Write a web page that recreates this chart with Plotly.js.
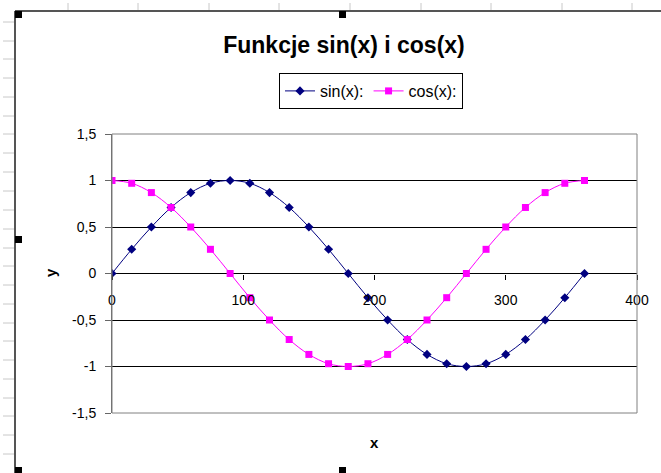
<!DOCTYPE html>
<html>
<head>
<meta charset="utf-8">
<script src="https://cdn.plot.ly/plotly-3.0.1.min.js"></script>
<style>html,body{margin:0;padding:0;background:#fff;}#chart{width:661px;height:473px;}</style>
</head>
<body>
<div id="chart"></div>
<script>
// ---- data ----
const xDeg = [0, 15, 30, 45, 60, 75, 90, 105, 120, 135, 150, 165, 180, 195, 210, 225, 240, 255, 270, 285, 300, 315, 330, 345, 360];
const sinVals = [0, 0.26, 0.5, 0.71, 0.87, 0.97, 1, 0.97, 0.87, 0.71, 0.5, 0.26, 0, -0.26, -0.5, -0.71, -0.87, -0.97, -1, -0.97, -0.87, -0.71, -0.5, -0.26, 0];
const cosVals = [1, 0.97, 0.87, 0.71, 0.5, 0.26, 0, -0.26, -0.5, -0.71, -0.87, -0.97, -1, -0.97, -0.87, -0.71, -0.5, -0.26, 0, 0.26, 0.5, 0.71, 0.87, 0.97, 1];
const seriesNames = ['sin(x):', 'cos(x):'];
const yTickVals = [-1.5, -1, -0.5, 0, 0.5, 1, 1.5];
const yTickText = ['-1,5', '-1', '-0,5', '0', '0,5', '1', '1,5'];
const xTickVals = [0, 100, 200, 300, 400];
const xTickText = ['0', '100', '200', '300', '400'];
const chartTitle = 'Funkcje sin(x) i cos(x)';
const xTitle = 'x';
const yTitle = 'y';

// ---- layout geometry ----
const W = 661, H = 473;
const PL = 112, PR = 637, PT = 134, PB = 413;
const px = v => (v - PL) / (PR - PL);
const py = v => (PB - v) / (PB - PT);
const FONT = 'Liberation Sans, Arial, sans-serif';

const traces = [
  {x: xDeg, y: sinVals, name: seriesNames[0], type: 'scatter', mode: 'lines+markers',
   line: {color: '#000080', width: 1, shape: 'spline', smoothing: 1},
   marker: {symbol: 'diamond', size: 7, color: '#000080'}},
  {x: xDeg, y: cosVals, name: seriesNames[1], type: 'scatter', mode: 'lines+markers',
   line: {color: '#ff00ff', width: 1, shape: 'spline', smoothing: 1},
   marker: {symbol: 'square', size: 7, color: '#ff00ff'}}
];

const shapes = [];
// plot-area border
shapes.push({type: 'rect', xref: 'paper', yref: 'paper', x0: 0, x1: 1, y0: 0, y1: 1,
  line: {color: '#808080', width: 1}, layer: 'above'});
// spreadsheet decoration: grey row ticks on left, column ticks on top
const rowTicks = [22, 41, 59, 78, 97, 116, 134, 153, 172, 191, 210, 229, 248, 266, 285, 304, 323, 341, 360, 379, 398, 416, 435, 454];
rowTicks.forEach(r => shapes.push({type: 'line', xref: 'paper', yref: 'paper',
  x0: px(3), x1: px(14), y0: py(r), y1: py(r), line: {color: '#c8c8c8', width: 1}}));
const colTicks = [68, 138, 209, 279, 350, 421, 491, 562, 632];
colTicks.forEach(c => shapes.push({type: 'line', xref: 'paper', yref: 'paper',
  x0: px(c), x1: px(c), y0: py(3), y1: py(10), line: {color: '#c8c8c8', width: 1}}));
// chart-area border
shapes.push({type: 'line', xref: 'paper', yref: 'paper', x0: px(15), x1: px(15), y0: py(11), y1: py(475),
  line: {color: '#555555', width: 2}});
shapes.push({type: 'line', xref: 'paper', yref: 'paper', x0: px(15), x1: px(665), y0: py(11), y1: py(11),
  line: {color: '#555555', width: 2}});
// selection handles
[[15, 11], [339, 11], [15, 236], [15, 467], [339, 467]].forEach(([hx, hy]) =>
  shapes.push({type: 'rect', xref: 'paper', yref: 'paper', x0: px(hx), x1: px(hx + 7), y0: py(hy), y1: py(hy + 7),
    fillcolor: '#000', line: {width: 0}}));

const layout = {
  width: W, height: H,
  margin: {l: PL, r: W - PR, t: PT, b: H - PB, pad: 0},
  paper_bgcolor: '#ffffff', plot_bgcolor: '#ffffff',
  font: {family: FONT, size: 14, color: '#000'},
  separators: ', ',
  showlegend: true,
  title: {text: '<b>' + chartTitle + '</b>', font: {family: FONT, size: 23, color: '#000'},
    x: 344 / W, y: 1 - 45 / H, xanchor: 'center', yanchor: 'middle', xref: 'container', yref: 'container'},
  legend: {orientation: 'h', x: px(279), y: py(73), xanchor: 'left', yanchor: 'top',
    bordercolor: '#000', borderwidth: 1, bgcolor: '#fff',
    font: {family: FONT, size: 16, color: '#000'}, itemwidth: 30},
  xaxis: {range: [0, 400], tickvals: xTickVals, ticktext: xTickText,
    anchor: 'free', position: 0.5, showline: false,
    ticks: 'outside', ticklen: 5, tickcolor: '#000', tickwidth: 1,
    showgrid: false, zeroline: false, ticklabelstandoff: 9,
    tickfont: {family: FONT, size: 14, color: '#000'}},
  yaxis: {range: [-1.5, 1.5], tickvals: yTickVals, ticktext: yTickText,
    showline: true, linecolor: '#666', linewidth: 1,
    ticks: 'outside', ticklen: 6, tickcolor: '#666', tickwidth: 1,
    showgrid: true, gridcolor: '#000', gridwidth: 1,
    zeroline: false, ticklabelstandoff: 6,
    tickfont: {family: FONT, size: 14, color: '#000'}},
  shapes: shapes,
  annotations: [
    {text: '<b>' + xTitle + '</b>', xref: 'paper', yref: 'paper', x: px(374), y: py(442),
     showarrow: false, xanchor: 'center', yanchor: 'middle', font: {family: FONT, size: 15, color: '#000'}},
    {text: '<b>' + yTitle + '</b>', xref: 'paper', yref: 'paper', x: px(50), y: py(273), textangle: -90,
     showarrow: false, xanchor: 'center', yanchor: 'middle', font: {family: FONT, size: 15, color: '#000'}}
  ]
};

Plotly.newPlot('chart', traces, layout, {displayModeBar: false, staticPlot: true});
</script>
</body>
</html>
